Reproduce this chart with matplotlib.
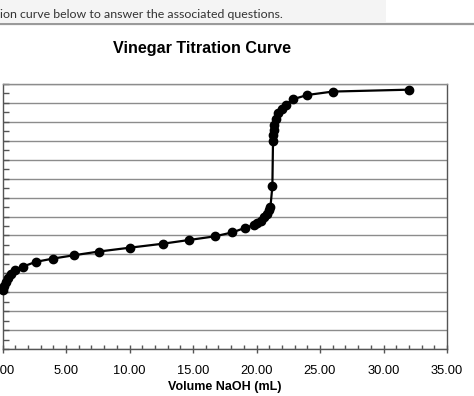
import matplotlib
matplotlib.use("Agg")
import matplotlib.pyplot as plt
from matplotlib.patches import Rectangle
from matplotlib.lines import Line2D
from matplotlib.ticker import MultipleLocator, FixedLocator, FixedFormatter

volume = [0.0, 0.1, 0.25, 0.45, 0.7, 1.0, 1.6, 2.6, 4.0, 5.6, 7.6, 10.0,
          12.6, 14.7, 16.7, 18.1, 19.1, 19.8, 20.05, 20.35, 20.6, 20.8, 21.0,
          21.1, 21.25, 21.3, 21.32, 21.35, 21.4, 21.5, 21.7, 22.0, 22.3,
          22.9, 24.0, 26.0, 32.0]
ph = [3.1, 3.35, 3.55, 3.75, 3.95, 4.15, 4.35, 4.6, 4.78, 4.95, 5.15, 5.35,
      5.56, 5.76, 5.95, 6.16, 6.4, 6.55, 6.65, 6.78, 6.95, 7.15, 7.35,
      7.52, 8.6, 11.0, 11.3, 11.55, 11.85, 12.15, 12.45, 12.7, 12.9,
      13.2, 13.42, 13.6, 13.7]

x_ticks = [0, 5, 10, 15, 20, 25, 30, 35]
x_tick_labels = ["0.00", "5.00", "10.00", "15.00", "20.00", "25.00", "30.00", "35.00"]

title = "Vinegar Titration Curve"
xlabel = "Volume NaOH (mL)"
header = "ion curve below to answer the associated questions."

W, H = 474, 396
fig = plt.figure(figsize=(W / 100, H / 100), dpi=100)
fig.patch.set_facecolor("white")

# header strip from the page
fig.patches.append(Rectangle((0, 1 - 22 / H), 386 / W, 22 / H, transform=fig.transFigure,
                             facecolor="#f4f4f4", edgecolor="none", zorder=0))
fig.lines.append(Line2D([0, 1], [1 - 23.5 / H, 1 - 23.5 / H], transform=fig.transFigure,
                        color="#9a9a9a", linewidth=1.6))
fig.text(0.0, 1 - 15 / H, header, fontsize=8.9, family="Lato", color="#333333",
         ha="left", va="center")

fig.text(202 / W, 1 - 48 / H, title, fontsize=11.6, fontweight="bold",
         family="Liberation Sans", ha="center", va="center")

left, right, top, bottom = 2.5, 447, 84, 349
ax = fig.add_axes([left / W, 1 - bottom / H, (right - left) / W, (bottom - top) / H])
ax.plot(volume, ph, color="black", linewidth=1.6, marker="o", markersize=6,
        markerfacecolor="black", markeredgecolor="black", zorder=3, clip_on=False)

ax.set_xlim(0, 35)
ax.set_ylim(0, 14)
ax.xaxis.set_major_locator(FixedLocator(x_ticks))
ax.xaxis.set_major_formatter(FixedFormatter(x_tick_labels))
ax.xaxis.set_minor_locator(MultipleLocator(1))
ax.yaxis.set_major_locator(MultipleLocator(1))
ax.yaxis.set_minor_locator(MultipleLocator(0.5))
ax.set_yticklabels([])
ax.grid(axis="y", which="major", color="#8c8c8c", linewidth=1.0)
ax.set_axisbelow(True)

ax.tick_params(axis="x", which="major", direction="inout", length=6, width=1,
               color="#555555", labelsize=9.3, pad=8.5)
ax.tick_params(axis="x", which="minor", direction="in", length=3, width=1, color="#555555")
ax.tick_params(axis="y", which="both", direction="in", length=4, width=1, color="#555555",
               left=True, labelleft=False)
for lab in ax.get_xticklabels():
    lab.set_family("Liberation Sans")

for s in ["left", "bottom", "right", "top"]:
    ax.spines[s].set_color("#555555")
    ax.spines[s].set_linewidth(1.0)
ax.spines["top"].set_color("#8c8c8c")

ax.set_xlabel(xlabel, fontsize=9, fontweight="bold", family="Liberation Sans", labelpad=3)

fig.savefig("out.png", dpi=100)
